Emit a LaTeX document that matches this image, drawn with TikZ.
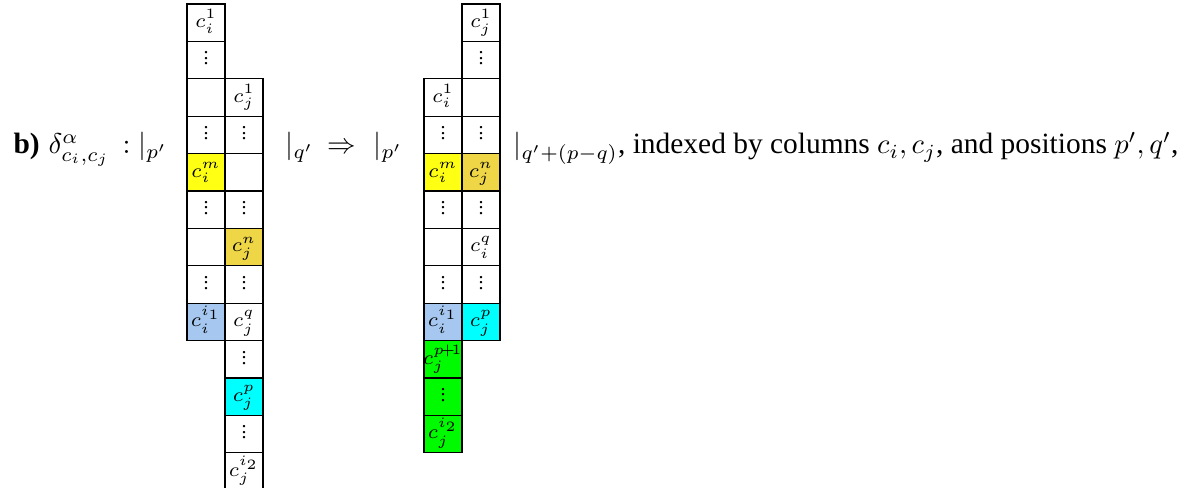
\documentclass[tikz,border=0pt]{standalone}
\usepackage{amsmath,amssymb}
\usepackage{fontspec}
\setmainfont{Liberation Serif}
\usepackage{xcolor}
\definecolor{cyel}{RGB}{255,255,20}
\definecolor{cgold}{RGB}{238,214,70}
\definecolor{cblue}{RGB}{166,200,240}
\definecolor{ccyan}{RGB}{0,255,255}
\definecolor{cgreen}{RGB}{0,250,0}
\newcommand{\cdts}{\vbox{\baselineskip=1.9pt\lineskiplimit=-10pt\hbox{.}\hbox{.}\hbox{.}}}

\begin{document}
\begin{tikzpicture}[x=0.35pt,y=-0.35pt,every node/.style={inner sep=0pt},
  cell/.style={draw,line width=0.45pt,minimum width=13.3pt,minimum height=13.09pt,text width=13.3pt,align=center,text height=5.5pt,text depth=2.2pt,font=\scriptsize},
  txt/.style={anchor=base west,font=\fontsize{10.3}{12}\selectfont}]
\useasboundingbox (0,0) rectangle (1183,488);
% text pieces
\node[txt](lab) at (13,154){\textbf{b)}};
\node[txt](dlt) at (48,154){$\delta^{\alpha}_{c_i,c_j}$};
\node[txt](lp) at (122,154){$:|_{p'}$};
\node[txt](lq) at (285,154){$|_{q'}$};
\node[txt](imp) at (327,154){$\Rightarrow$};
\node[txt](rp) at (373,154){$|_{p'}$};
\node[txt](tail) at (513,154){$|_{q'+(p-q)}$, indexed by columns $c_i, c_j$, and positions $p', q'$,};
% left tableau, column c_i
\node[cell](li1) at (206,22.7){$c_i^1$};
\node[cell](li2) at (206,60.1){\cdts};
\node[cell](li3) at (206,97.5){};
\node[cell](li4) at (206,134.9){\cdts};
\node[cell,fill=cyel](li5) at (206,172.3){$c_i^m$};
\node[cell](li6) at (206,209.7){\cdts};
\node[cell](li7) at (206,247.1){};
\node[cell](li8) at (206,284.5){\cdts};
\node[cell,fill=cblue](li9) at (206,321.9){$c_i^{i_1}$};
% left tableau, column c_j
\node[cell](lj3) at (244,97.5){$c_j^1$};
\node[cell](lj4) at (244,134.9){\cdts};
\node[cell](lj5) at (244,172.3){};
\node[cell](lj6) at (244,209.7){\cdts};
\node[cell,fill=cgold](lj7) at (244,247.1){$c_j^n$};
\node[cell](lj8) at (244,284.5){\cdts};
\node[cell](lj9) at (244,321.9){$c_j^q$};
\node[cell](lj10) at (244,359.3){\cdts};
\node[cell,fill=ccyan](lj11) at (244,396.7){$c_j^p$};
\node[cell](lj12) at (244,434.1){\cdts};
\node[cell](lj13) at (244,471.5){$c_j^{i_2}$};
% right tableau, column c_i
\node[cell](ri3) at (443,97.5){$c_i^1$};
\node[cell](ri4) at (443,134.9){\cdts};
\node[cell,fill=cyel](ri5) at (443,172.3){$c_i^m$};
\node[cell](ri6) at (443,209.7){\cdts};
\node[cell](ri7) at (443,247.1){};
\node[cell](ri8) at (443,284.5){\cdts};
\node[cell,fill=cblue](ri9) at (443,321.9){$c_i^{i_1}$};
\node[cell,fill=cgreen](ri10) at (443,359.3){\makebox[0pt][c]{$c_j^{p\!+\!1}$}};
\node[cell,fill=cgreen](ri11) at (443,396.7){\cdts};
\node[cell,fill=cgreen](ri12) at (443,434.1){$c_j^{i_2}$};
% right tableau, column c_j
\node[cell](rj1) at (481,22.7){$c_j^1$};
\node[cell](rj2) at (481,60.1){\cdts};
\node[cell](rj3) at (481,97.5){};
\node[cell](rj4) at (481,134.9){\cdts};
\node[cell,fill=cgold](rj5) at (481,172.3){$c_j^n$};
\node[cell](rj6) at (481,209.7){\cdts};
\node[cell](rj7) at (481,247.1){$c_i^q$};
\node[cell](rj8) at (481,284.5){\cdts};
\node[cell,fill=ccyan](rj9) at (481,321.9){$c_j^p$};
\end{tikzpicture}
\end{document}
